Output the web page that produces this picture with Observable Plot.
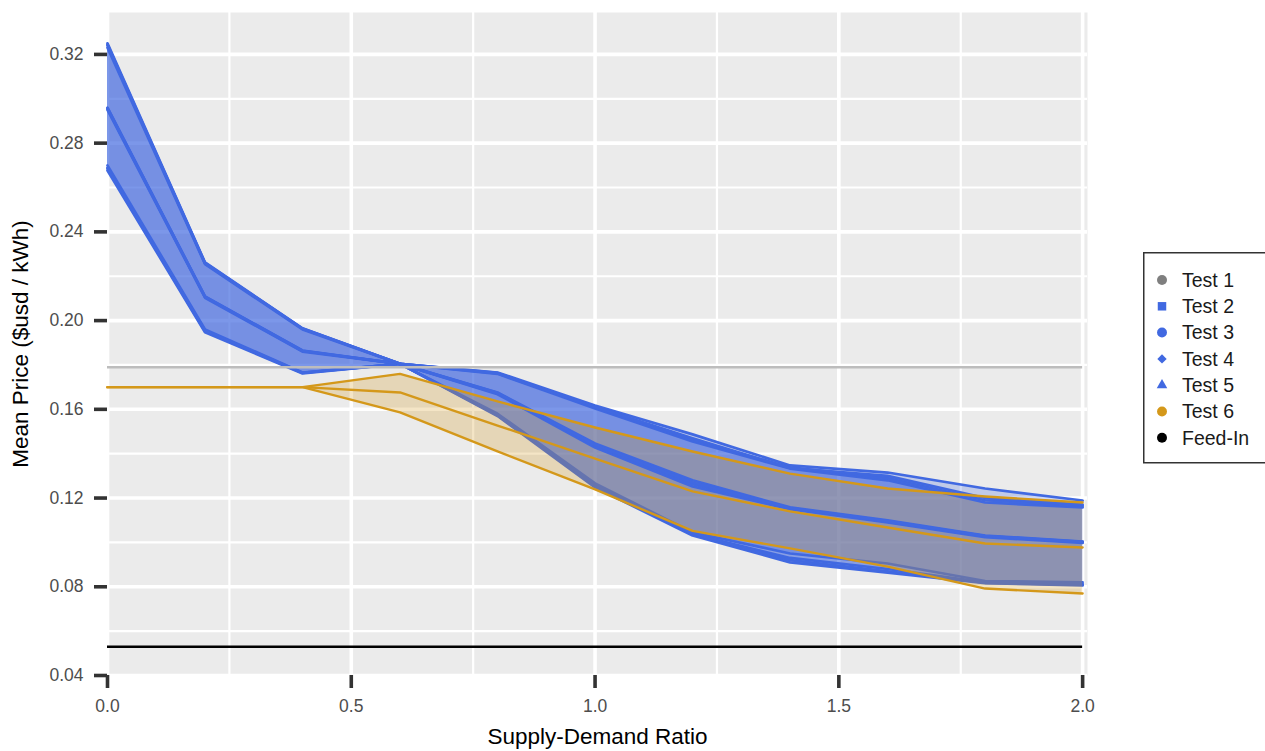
<!DOCTYPE html>
<html>
<head>
<meta charset="utf-8">
<script src="https://cdn.jsdelivr.net/npm/d3@7"></script>
<script src="https://cdn.jsdelivr.net/npm/@observablehq/plot@0.6"></script>
<style>
  html, body { margin: 0; padding: 0; background: white; }
  #wrap { position: relative; width: 1265px; height: 751px; overflow: hidden; }
  #legend { position: absolute; left: 1143px; top: 252px; }
</style>
</head>
<body>
<div id="wrap"><div id="chart"></div><svg id="legend" width="122" height="212"></svg></div>
<script>
// ---------- data ----------
const ratio = [0, 0.2, 0.4, 0.6, 0.8, 1.0, 1.2, 1.4, 1.6, 1.8, 2.0];

const test2Upper = [0.3250, 0.2262, 0.1965, 0.1805, 0.1766, 0.1617, 0.1487, 0.1347, 0.1315, 0.1243, 0.1189];
const test2Mean  = [0.2960, 0.2109, 0.1865, 0.1805, 0.1676, 0.1446, 0.1280, 0.1158, 0.1099, 0.1031, 0.1004];
const test2Lower = [0.2700, 0.1960, 0.1766, 0.1805, 0.1580, 0.1266, 0.1045, 0.0950, 0.0905, 0.0826, 0.0820];

const test3Upper = [0.3230, 0.2255, 0.1960, 0.1805, 0.1760, 0.1604, 0.1455, 0.1333, 0.1280, 0.1180, 0.1158];
const test3Mean  = [0.2950, 0.2103, 0.1860, 0.1805, 0.1668, 0.1428, 0.1252, 0.1150, 0.1090, 0.1024, 0.0998];
const test3Lower = [0.2677, 0.1947, 0.1762, 0.1805, 0.1570, 0.1248, 0.1031, 0.0910, 0.0864, 0.0816, 0.0806];

const test4Upper = [0.3245, 0.2258, 0.1963, 0.1805, 0.1764, 0.1610, 0.1462, 0.1338, 0.1290, 0.1190, 0.1165];
const test4Mean  = [0.2958, 0.2106, 0.1863, 0.1805, 0.1672, 0.1437, 0.1262, 0.1153, 0.1094, 0.1028, 0.1001];
const test4Lower = [0.2690, 0.1952, 0.1764, 0.1805, 0.1575, 0.1257, 0.1038, 0.0930, 0.0880, 0.0820, 0.0812];

const test5Upper = [0.3240, 0.2260, 0.1964, 0.1805, 0.1762, 0.1612, 0.1470, 0.1335, 0.1300, 0.1200, 0.1170];
const test5Mean  = [0.2955, 0.2108, 0.1864, 0.1805, 0.1674, 0.1440, 0.1270, 0.1155, 0.1096, 0.1029, 0.1002];
const test5Lower = [0.2685, 0.1955, 0.1765, 0.1805, 0.1573, 0.1260, 0.1040, 0.0920, 0.0870, 0.0818, 0.0810];

const test6Upper = [0.1700, 0.1700, 0.1700, 0.1760, 0.1636, 0.1518, 0.1410, 0.1310, 0.1243, 0.1207, 0.1180];
const test6Mean  = [0.1700, 0.1700, 0.1700, 0.1676, 0.1527, 0.1378, 0.1230, 0.1140, 0.1067, 0.0995, 0.0977];
const test6Lower = [0.1700, 0.1700, 0.1700, 0.1586, 0.1410, 0.1239, 0.1052, 0.0973, 0.0891, 0.0792, 0.0770];

const test1Price = 0.179;   // flat price, Test 1
const feedInPrice = 0.053;  // feed-in tariff

const yTicks = [0.04, 0.08, 0.12, 0.16, 0.20, 0.24, 0.28, 0.32];
const yMinor = [0.06, 0.10, 0.14, 0.18, 0.22, 0.26, 0.30];
const xTicks = [0, 0.5, 1.0, 1.5, 2.0];
const xMinor = [0.25, 0.75, 1.25, 1.75];

const legendLabels = ["Test 1", "Test 2", "Test 3", "Test 4", "Test 5", "Test 6", "Feed-In"];
const legendShapes = ["circle", "square", "circle", "diamond", "triangle", "circle", "circle"];

// ---------- styles ----------
const BLUE = "#4169E1";
const GOLD = "#D4981A";
const GRAY = "#7F7F7F";
const legendColors = [GRAY, BLUE, BLUE, BLUE, BLUE, GOLD, "#000000"];

function rowsFor(test, lower, mean, upper) {
  return ratio.map((r, i) => ({test, ratio: r, lower: lower[i], mean: mean[i], upper: upper[i]}));
}
const blueRows = [
  ...rowsFor("Test 2", test2Lower, test2Mean, test2Upper),
  ...rowsFor("Test 3", test3Lower, test3Mean, test3Upper),
  ...rowsFor("Test 4", test4Lower, test4Mean, test4Upper),
  ...rowsFor("Test 5", test5Lower, test5Mean, test5Upper)
];
const goldRows = rowsFor("Test 6", test6Lower, test6Mean, test6Upper);

const LW = 2.7;
const GW = 2.4;
const chart = Plot.plot({
  width: 1265,
  height: 751,
  marginLeft: 107,
  marginRight: 178,
  marginTop: 12,
  marginBottom: 76,
  x: {domain: [0, 2.01]},
  y: {domain: [0.04, 0.3389]},
  style: {fontFamily: "'Liberation Sans', Arial, Helvetica, sans-serif", fontSize: "17.5px", background: "white", overflow: "visible"},
  marks: [
    Plot.frame({fill: "#EBEBEB", stroke: null}),
    Plot.gridY(yMinor, {stroke: "white", strokeOpacity: 1, strokeWidth: 2.2}),
    Plot.gridX(xMinor, {stroke: "white", strokeOpacity: 1, strokeWidth: 2.2}),
    Plot.gridY(yTicks, {stroke: "white", strokeOpacity: 1, strokeWidth: 3.6}),
    Plot.gridX(xTicks, {stroke: "white", strokeOpacity: 1, strokeWidth: 3.6}),
    Plot.areaY(blueRows, {x: "ratio", y1: "lower", y2: "upper", z: "test", fill: BLUE, fillOpacity: 0.25}),
    Plot.lineY(blueRows, {x: "ratio", y: "lower", z: "test", stroke: BLUE, strokeWidth: LW}),
    Plot.areaY(goldRows, {x: "ratio", y1: "lower", y2: "upper", z: "test", fill: GOLD, fillOpacity: 0.25}),
    Plot.lineY(blueRows, {x: "ratio", y: "mean", z: "test", stroke: BLUE, strokeWidth: LW}),
    Plot.lineY(blueRows, {x: "ratio", y: "upper", z: "test", stroke: BLUE, strokeWidth: LW}),
    Plot.lineY(goldRows, {x: "ratio", y: "lower", stroke: GOLD, strokeWidth: GW}),
    Plot.lineY(goldRows, {x: "ratio", y: "mean", stroke: GOLD, strokeWidth: GW}),
    Plot.lineY(goldRows, {x: "ratio", y: "upper", stroke: GOLD, strokeWidth: GW}),
    Plot.ruleY([test1Price], {x1: 0, x2: 2, stroke: "#BDBDBD", strokeWidth: 2.5}),
    Plot.ruleY([feedInPrice], {x1: 0, x2: 2, stroke: "#000000", strokeWidth: 2.5}),
    Plot.axisY(yTicks, {tickSize: 13, tickPadding: 11, tickFormat: d => d.toFixed(2), stroke: "#333333", strokeWidth: 3.6, fill: "#4D4D4D", fontSize: 17.5, label: null}),
    Plot.axisX(xTicks, {tickSize: 13, tickPadding: 11, tickFormat: d => d.toFixed(1), stroke: "#333333", strokeWidth: 3.6, fill: "#4D4D4D", fontSize: 17.5, label: null}),
    Plot.text(["Supply-Demand Ratio"], {frameAnchor: "bottom", dy: 61, lineAnchor: "middle", textAnchor: "middle", fontSize: 22.5, fill: "#000000"}),
    Plot.text(["Mean Price ($usd / kWh)"], {frameAnchor: "left", dx: -87, rotate: -90, lineAnchor: "middle", textAnchor: "middle", fontSize: 22.5, fill: "#000000"})
  ]
});
document.getElementById("chart").appendChild(chart);

// ---------- legend ----------
const lg = d3.select("#legend");
lg.append("rect").attr("x", 0.75).attr("y", 0.75).attr("width", 200).attr("height", 210)
  .attr("fill", "white").attr("stroke", "#333333").attr("stroke-width", 1.5);
const symbol = {
  circle: d3.symbol(d3.symbolCircle, 78),
  square: d3.symbol(d3.symbolSquare, 72),
  diamond: d3.symbol(d3.symbolDiamond2, 56),
  triangle: d3.symbol(d3.symbolTriangle2, 80)
};
legendLabels.forEach((lab, i) => {
  const cy = 28 + i * 26.3;
  lg.append("path").attr("d", symbol[legendShapes[i]]())
    .attr("transform", `translate(19,${cy})`).attr("fill", legendColors[i]);
  lg.append("text").attr("x", 39).attr("y", cy).attr("dy", "0.35em")
    .attr("font-family", "'Liberation Sans', Arial, sans-serif").attr("font-size", 19.5)
    .attr("fill", "#1A1A1A").text(lab);
});
</script>
</body>
</html>
